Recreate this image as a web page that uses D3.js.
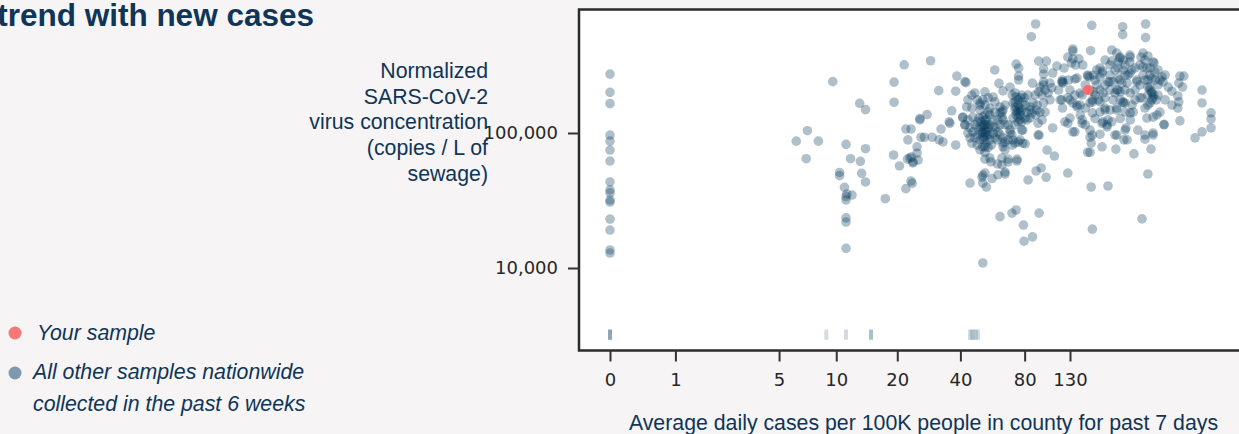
<!DOCTYPE html>
<html>
<head>
<meta charset="utf-8">
<script src="https://cdn.jsdelivr.net/npm/d3@7"></script>
<style>
  html, body { margin: 0; padding: 0; background: #f6f4f5; overflow: hidden; }
  svg { display: block; font-family: "Liberation Sans", Arial, sans-serif; }
</style>
</head>
<body>
<div id="my_dataviz"></div>
<script>
// values, same order in both arrays
var zeroCaseConc = [273000, 200000, 165000, 96600, 87000, 74800, 62000, 43400, 37900, 36000,
  31900, 30800, 23000, 19100, 13600, 12900];

var caseRate = [
  9.6, 7.1, 6.2, 8.1, 7.0, 13.1, 14, 19.3, 21.6, 19.3,
  11.2, 14, 11.8, 13.2, 19.2, 20.5, 10.4, 10.4, 13.4, 14,
  11, 11.3, 12, 11.2, 11.2, 17.5, 22, 11.2, 11.2, 11.2,
  23.3, 23.6, 22, 23.3, 22.5, 22.4, 23, 24.9, 25.2, 23.8,
  23.4, 23.8, 24.9, 26, 27, 29.4, 31.7, 33.1, 32.4, 35.7,
  38, 25.7, 28.9, 38.5, 42, 42.5, 31.6, 38, 36.4, 27.8,
  25.7, 41, 35.4, 42, 58, 60.7, 90, 86, 164, 228,
  228, 291, 291, 162, 134, 134, 127, 134, 143, 132,
  138, 93, 101, 73, 75, 113, 122, 98, 98, 108,
  75, 75, 87, 98, 98, 120, 121, 137, 157, 160,
  179, 184, 189, 203, 214, 221, 217, 203, 246, 246,
  251, 246, 217, 217, 221, 199, 179, 283, 298, 277,
  315, 318, 274, 295, 321, 346, 350, 298, 304, 311,
  315, 311, 332, 419, 437, 414, 431, 385, 410, 414,
  530, 530, 583, 583, 583, 530, 492, 385, 410, 419,
  354, 295, 328, 339, 315, 46.8, 52.2, 49.5, 56.9, 42.8,
  45.3, 49.5, 55, 61.4, 62.7, 41.1, 42, 45.8, 48, 51,
  53.3, 57, 62.7, 63.4, 45.8, 48.8, 51, 52.2, 51, 45.3,
  48, 52.2, 49.5, 57, 58.2, 63.4, 64.8, 68.4, 70.6, 74.6,
  78.4, 77.5, 63.4, 68.4, 72.2, 76.2, 70.6, 74.6, 78.4, 77.5,
  73.7, 74.6, 82, 86.5, 94.4, 84.8, 89.5, 96.5, 102.8, 94.4,
  105, 119, 76.2, 82, 92.4, 92.4, 78.4, 101.8, 110, 62.7,
  67, 73.7, 55, 119, 130, 140, 120, 127, 137, 153,
  161, 108, 145, 140, 120, 63.4, 64.8, 59.7, 72.2, 80.4,
  76.2, 69.8, 68.4, 60.1, 52.2, 55.7, 59.7, 62.7, 67, 73.7,
  50.6, 52.2, 56.3, 60, 64.8, 64.8, 44.4, 51, 53, 51,
  83, 90.5, 95.5, 100.7, 93.4, 127, 163, 195, 298, 61.4,
  69.8, 73, 93.4, 79, 87, 79.5, 165, 280, 51, 123,
  134, 148, 161, 165, 163, 161, 157, 179, 183, 183,
  193, 203, 212, 210, 214, 236, 268, 231, 239, 257,
  289, 308, 315, 354, 315, 157, 167, 149, 222, 229,
  247, 173, 183, 195, 206, 226, 239, 265, 167, 165,
  176, 185, 189, 210, 217, 234, 229, 247, 252, 255,
  214, 185, 193, 165, 148, 280, 298, 298, 311, 283,
  339, 234, 289, 117, 127, 134, 140, 130, 145, 148,
  165, 161, 179, 189, 214, 214, 229, 247, 274, 265,
  206, 173, 50, 51.6, 52.8, 50.5, 53.3, 51.5, 52.8, 51,
  54, 55, 52.2, 54, 49, 49.5, 48, 61.4, 63.4, 64.8,
  60, 61.4, 64.8, 72.2, 74.6, 76.2, 73, 76.2, 80.4, 72.2,
  70.6, 80.4, 84.8, 90, 91,
  43.4, 45.3, 48, 51, 54, 58.2, 43.4, 44.4, 46.8, 46.8,
  44.4, 43.4, 49.5, 52.2, 55, 58.2, 57, 58.6, 55, 55,
  56, 49.5, 52.2, 54, 52.2, 52.2, 52.2, 52.2, 51, 53.3,
  61.4, 63.4, 67, 67, 70, 70, 73, 77.5, 80, 83,
  72.2, 74.6, 76.2, 74.6, 72, 77.5, 84.8, 87.5, 91.5, 98,
  99.6, 93, 107, 115, 105, 99.6, 96.5,
  153, 161, 170, 179, 189, 199, 222, 234, 260, 274,
  289, 305, 322, 332, 311, 305, 317, 298, 326, 305,
  289, 260, 234, 222, 247, 199, 179, 170, 153, 145,
  137, 130, 128, 199, 234, 260, 229, 241, 199, 210,
  170, 289, 305, 332, 358, 370, 358, 283, 234, 189,
  222, 195
];

var concentration = [
  240000, 104000, 87000, 87000, 64500, 166000, 149000, 238000, 320000, 169000,
  82400, 76500, 64500, 61700, 68700, 57000, 51000, 48300, 50300, 43400,
  39600, 35300, 34700, 33800, 31900, 32600, 38700, 23500, 21900, 14000,
  44100, 42400, 107000, 107000, 89000, 64000, 65300, 71000, 63000, 60000,
  66400, 61000, 79000, 93000, 93000, 93000, 89000, 85800, 107000, 118000,
  81500, 125000, 343000, 264000, 240000, 236000, 206000, 204000, 146000, 137000,
  128000, 130000, 121000, 115000, 293000, 233000, 642000, 517000, 628000, 613000,
  535000, 642000, 509000, 407000, 419000, 404000, 365000, 354000, 354000, 330000,
  319000, 341000, 341000, 324000, 303000, 313000, 303000, 298000, 273000, 278000,
  264000, 247000, 234000, 239000, 227000, 247000, 234000, 251000, 264000, 260000,
  303000, 288000, 347000, 412000, 391000, 359000, 336000, 341000, 378000, 336000,
  293000, 278000, 303000, 255000, 247000, 239000, 260000, 391000, 372000, 365000,
  336000, 330000, 319000, 303000, 283000, 260000, 239000, 247000, 219000, 198000,
  182000, 176000, 191000, 264000, 264000, 234000, 219000, 204000, 188000, 170000,
  208000, 167000, 141000, 127000, 109000, 102000, 92000, 161000, 153000, 123000,
  115000, 129000, 136000, 143000, 131000, 198000, 202000, 167000, 185000, 156000,
  153000, 148000, 153000, 156000, 143000, 131000, 115000, 131000, 121000, 131000,
  115000, 125000, 131000, 125000, 102000, 105000, 111000, 100000, 93000, 84000,
  81500, 79000, 88700, 100000, 92000, 79000, 86000, 100000, 88700, 86000,
  84000, 105000, 205000, 219000, 198000, 182000, 167000, 161000, 170000, 148000,
  143000, 131000, 141000, 141000, 143000, 156000, 191000, 191000, 198000, 219000,
  234000, 239000, 125000, 125000, 118000, 96600, 105000, 74800, 67500, 65300,
  64000, 64000, 65300, 176000, 176000, 161000, 153000, 118000, 102000, 115000,
  93000, 109000, 198000, 255000, 239000, 84000, 75000, 89000, 84000, 83000,
  89000, 97000, 105000, 102000, 64000, 61000, 59000, 58000, 61000, 62000,
  47000, 50500, 46000, 49000, 49700, 51400, 42600, 42600, 39800, 48800,
  44900, 52300, 55100, 47000, 96600, 50500, 39800, 40500, 49700, 24000,
  25500, 26900, 25500, 20800, 17000, 15800, 19400, 23100, 10900, 121000,
  102000, 118000, 105000, 96600, 84000, 72000, 72000, 98000, 79000, 118000,
  115000, 121000, 76000, 96600, 96600, 109000, 105000, 89000, 89000, 70000,
  90000, 76000, 96600, 116000, 100000, 269000, 269000, 319000, 365000, 347000,
  365000, 293000, 278000, 239000, 239000, 234000, 234000, 239000, 202000, 170000,
  176000, 198000, 153000, 198000, 208000, 167000, 170000, 198000, 161000, 143000,
  153000, 121000, 111000, 141000, 125000, 182000, 161000, 219000, 202000, 309000,
  247000, 105000, 96600, 176000, 182000, 167000, 156000, 129000, 136000, 191000,
  176000, 167000, 170000, 148000, 148000, 208000, 167000, 141000, 182000, 247000,
  176000, 227000, 121000, 115000, 125000, 102000, 96600, 89000, 84000, 79000,
  109000, 115000, 136000, 143000, 129000, 111000, 96600, 141000, 148000, 161000,
  125000, 115000, 115000, 170000, 176000, 153000, 136000, 143000, 161000, 148000,
  129000, 129000, 148000, 136000, 148000,
  176000, 191000, 176000, 176000, 182000, 170000, 125000, 109000, 115000, 92000,
  92000, 100000, 161000, 161000, 136000, 143000, 111000, 109000, 96600, 89000,
  81500, 75000, 72000, 78000, 93000, 115000, 123000, 105000, 100000, 102000,
  97000, 92000, 115000, 89000, 81500, 191000, 185000, 191000, 182000, 191000,
  156000, 148000, 136000, 121000, 115000, 121000, 129000, 167000, 161000, 167000,
  208000, 202000, 216000, 208000, 176000, 143000, 125000,
  227000, 208000, 191000, 208000, 227000, 208000, 202000, 208000, 208000, 227000,
  247000, 269000, 247000, 227000, 255000, 208000, 191000, 191000, 176000, 167000,
  153000, 176000, 143000, 128000, 125000, 148000, 143000, 128000, 153000, 161000,
  191000, 208000, 247000, 319000, 319000, 303000, 293000, 269000, 269000, 293000,
  247000, 347000, 303000, 293000, 269000, 219000, 176000, 269000, 269000, 182000,
  176000, 125000
];

var yourCaseRate = [157];
var yourConc = [208000];

// samples below the detection limit, only the case rate is known
var rugCases = [0, 0, 0, 8.9, 11.2, 14.9, 14.9, 44.4, 45.3, 46.2, 47.3, 48.4];
var rugConc = [3500, 2940];

var xTicks = [0, 1, 5, 10, 20, 40, 80, 130];
var yTicks = [10000, 100000];
var yLabelLines = ["Normalized", "SARS-CoV-2", "virus concentration", "(copies / L of", "sewage)"];

var width = 1239, height = 434;
var navy = "#0f3557", pointColor = "#073b5c", red = "#ff6b6b", ink = "#262626";

var svg = d3.select("#my_dataviz")
  .append("svg")
    .attr("width", width)
    .attr("height", height);

var x = d3.scaleSymlog()
  .constant(1)
  .domain([0, 130])
  .range([610, 1070]);

var y = d3.scaleLog()
  .domain([10000, 100000])
  .range([268, 133]);

var left = 579, top_ = 9.5, bottom = 350.5, right = 1260;

svg.append("rect")
  .attr("x", left).attr("y", top_)
  .attr("width", right - left).attr("height", bottom - top_)
  .attr("fill", "#fff")
  .attr("stroke", "#2b2b2b")
  .attr("stroke-width", 2.5);

// axes
var xAxis = svg.append("g")
  .attr("transform", "translate(0," + bottom + ")")
  .call(d3.axisBottom(x).tickValues(xTicks).tickFormat(d3.format("d")).tickSize(11).tickPadding(12));

var yAxis = svg.append("g")
  .attr("transform", "translate(" + left + ",0)")
  .call(d3.axisLeft(y).tickValues(yTicks).tickFormat(d3.format(",")).tickSize(11).tickPadding(10));

[xAxis, yAxis].forEach(function(a) {
  a.select(".domain").remove();
  a.selectAll("line").attr("stroke", "#333").attr("stroke-width", 2);
  a.selectAll("text")
    .attr("fill", ink)
    .style("font-family", "'DejaVu Sans'")
    .style("font-size", "18px");
});

// rug
svg.selectAll("rect.rug")
  .data(rugCases)
  .enter()
  .append("rect")
    .attr("class", "rug")
    .attr("x", function(d) { return x(d) - 2; })
    .attr("y", y(rugConc[0]))
    .attr("width", 4)
    .attr("height", y(rugConc[1]) - y(rugConc[0]))
    .attr("fill", pointColor)
    .attr("opacity", 0.18);

// points
var all = zeroCaseConc.map(function(c) { return [0, c]; })
  .concat(caseRate.map(function(c, i) { return [c, concentration[i]]; }));

svg.selectAll("circle.sample")
  .data(all)
  .enter()
  .append("circle")
    .attr("class", "sample")
    .attr("cx", function(d) { return x(d[0]); })
    .attr("cy", function(d) { return y(d[1]); })
    .attr("r", 4.8)
    .attr("fill", pointColor)
    .attr("fill-opacity", 0.32);

svg.selectAll("circle.yours")
  .data(yourCaseRate)
  .enter()
  .append("circle")
    .attr("class", "yours")
    .attr("cx", function(d) { return x(d); })
    .attr("cy", function(d, i) { return y(yourConc[i]); })
    .attr("r", 5)
    .attr("fill", red);

// title, cut off by the page edge
svg.append("text")
  .attr("x", 314).attr("y", 26)
  .attr("text-anchor", "end")
  .attr("fill", navy)
  .style("font-size", "31.5px")
  .style("font-weight", "bold")
  .text("trend with new cases");

// y label
svg.selectAll("text.ylab")
  .data(yLabelLines)
  .enter()
  .append("text")
    .attr("class", "ylab")
    .attr("x", 488)
    .attr("y", function(d, i) { return 78 + i * 25.7; })
    .attr("text-anchor", "end")
    .attr("fill", navy)
    .style("font-size", "21.3px")
    .text(function(d) { return d; });

// x label
svg.append("text")
  .attr("x", 923.5).attr("y", 430)
  .attr("text-anchor", "middle")
  .attr("fill", navy)
  .style("font-size", "21.3px")
  .text("Average daily cases per 100K people in county for past 7 days");

// legend
svg.append("circle").attr("cx", 15).attr("cy", 333).attr("r", 6.5).attr("fill", "#f87878");
svg.append("circle").attr("cx", 15).attr("cy", 373).attr("r", 6.5).attr("fill", "#7f98ad");

var legendText = [["Your sample", 37, 340], ["All other samples nationwide", 33, 379], ["collected in the past 6 weeks", 33, 411]];
svg.selectAll("text.leg")
  .data(legendText)
  .enter()
  .append("text")
    .attr("class", "leg")
    .attr("x", function(d) { return d[1]; })
    .attr("y", function(d) { return d[2]; })
    .attr("fill", navy)
    .style("font-size", "21.3px")
    .style("font-style", "italic")
    .text(function(d) { return d[0]; });
</script>
</body>
</html>
